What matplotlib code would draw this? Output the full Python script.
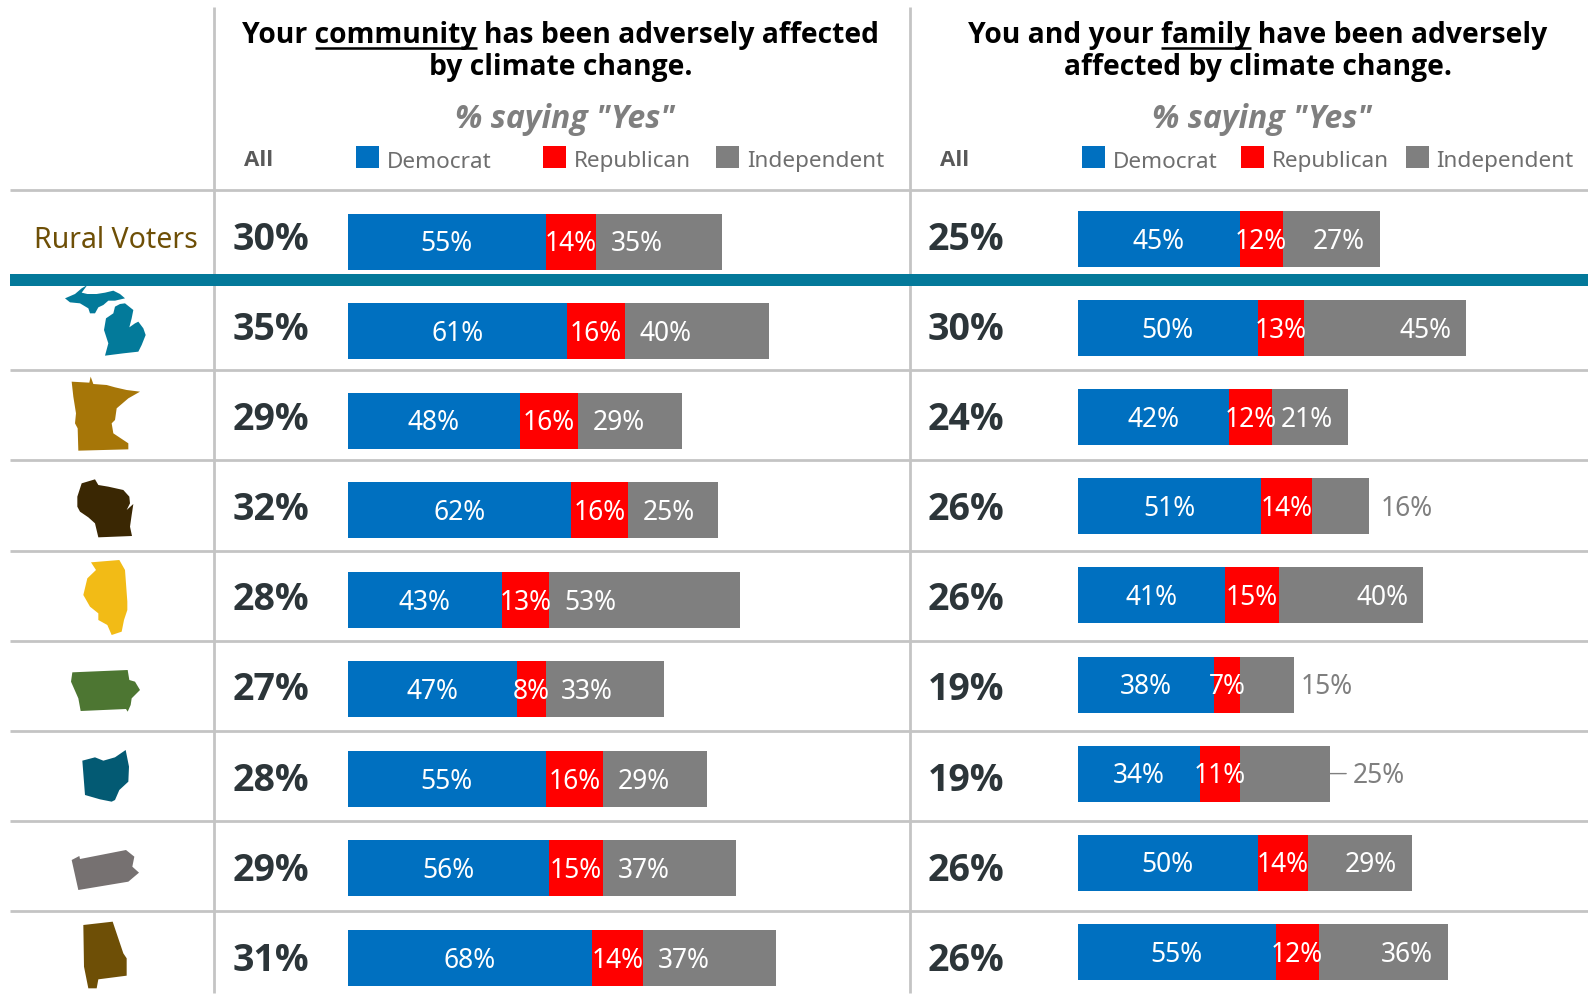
import matplotlib
matplotlib.use("Agg")
import matplotlib.pyplot as plt
from matplotlib.patches import Rectangle

rows = ["Rural Voters", "MI", "MN", "WI", "IL", "IA", "OH", "PA", "AL"]

all_left = [30, 35, 29, 32, 28, 27, 28, 29, 31]
dem_left = [55, 61, 48, 62, 43, 47, 55, 56, 68]
rep_left = [14, 16, 16, 16, 13, 8, 16, 15, 14]
ind_left = [35, 40, 29, 25, 53, 33, 29, 37, 37]

all_right = [25, 30, 24, 26, 26, 19, 19, 26, 26]
dem_right = [45, 50, 42, 51, 41, 38, 34, 50, 55]
rep_right = [12, 13, 12, 14, 15, 7, 11, 14, 12]
ind_right = [27, 45, 21, 16, 40, 15, 25, 29, 36]

party_names = ["Democrat", "Republican", "Independent"]

state_shapes = {
    "MI": (270, "#037A9A", [
        [(195, 85), (225, 72), (245, 55), (262, 45), (245, 68), (262, 72), (290, 72), (315, 68), (340, 62),
         (360, 72), (375, 85), (345, 92), (325, 92), (310, 105), (295, 112), (285, 130), (270, 130),
         (265, 115), (240, 100), (210, 97)],
        [(345, 110), (360, 102), (375, 100), (400, 120), (395, 145), (388, 172), (405, 160), (415, 155),
         (430, 175), (437, 195), (425, 225), (415, 245), (370, 250), (315, 257), (325, 220), (312, 180),
         (318, 145), (340, 130)]]),
    "MN": (270, "#A67608", [
        [(215, 335), (268, 338), (272, 320), (280, 342), (320, 345), (345, 352), (380, 360), (420, 365),
         (385, 385), (350, 415), (345, 450), (335, 460), (340, 490), (370, 510), (385, 520), (385, 538),
         (235, 542), (233, 475), (225, 460), (228, 430), (220, 380)]]),
    "WI": (270, "#3A2703", [
        [(245, 640), (285, 628), (295, 645), (325, 650), (370, 660), (388, 680), (390, 700), (380, 720),
         (400, 702), (395, 735), (390, 770), (396, 798), (295, 802), (285, 760), (265, 742), (240, 725),
         (232, 710), (232, 680)]]),
    "IL": (270, "#F2BB16", [
        [(273, 877), (358, 870), (375, 900), (382, 995), (382, 1020), (372, 1050), (365, 1085), (335, 1095),
         (322, 1065), (295, 1050), (295, 1030), (270, 1010), (250, 975), (262, 925), (288, 900)]]),
    "IA": (630, "#4D7632", [
        [(217, 127), (383, 120), (388, 150), (405, 155), (420, 180), (395, 205), (392, 225),
         (383, 245), (378, 237), (242, 243), (235, 205), (213, 155)]]),
    "OH": (630, "#035A73", [
        [(247, 392), (285, 382), (310, 392), (345, 382), (377, 360), (387, 410), (385, 455),
         (358, 480), (345, 510), (335, 515), (300, 508), (255, 495)]]),
    "PA": (630, "#767171", [
        [(215, 690), (238, 678), (240, 687), (378, 660), (403, 680), (397, 710), (417, 728),
         (385, 755), (235, 780)]]),
    "AL": (630, "#6E4F06", [
        [(250, 885), (338, 875), (370, 970), (380, 985), (380, 1037), (295, 1048), (290, 1075),
         (265, 1075), (252, 1010)]]),
}

W, H = 1588, 994
PX_PER_PCT = 3.6
BLUE, RED, GRAY = "#0070C0", "#FF0000", "#7F7F7F"
LINE = "#C4C4C4"
TEAL = "#04799A"
BOLD = "Open Sans"
LABEL_SIZE = 19
TITLE_SIZE = 20.3

plt.rcParams["font.family"] = "Noto Sans"
fig = plt.figure(figsize=(W / 100, H / 100), dpi=100)

# overlay in pixel coordinates for the table furniture
bg = fig.add_axes([0, 0, 1, 1])
bg.set_xlim(0, W)
bg.set_ylim(H, 0)
bg.axis("off")

for y in [190, 370, 460, 551, 641, 731, 821, 911]:
    bg.plot([10, W], [y, y], color=LINE, lw=2, solid_capstyle="butt")
for x in [214, 910]:
    bg.plot([x, x], [7, 993], color=LINE, lw=2, solid_capstyle="butt")
bg.add_patch(Rectangle((10, 274), W - 10, 12, color=TEAL, lw=0, zorder=3))

for name, (y_off, color, polys) in state_shapes.items():
    for poly in polys:
        bg.fill([p[0] / 3 for p in poly], [y_off + p[1] / 3 for p in poly], color=color, lw=0)

bg.text(116, 240, rows[0], color="#6E4F06", fontsize=20.5, ha="center", va="center")


def title_line(cx, y, text, under=None):
    t = bg.text(cx, y, text, fontsize=TITLE_SIZE, fontweight="bold", family=BOLD, color="black",
                ha="center", va="center")
    if under is None:
        return
    r = fig.canvas.get_renderer()
    left = t.get_window_extent(r).x0
    pre = text[:text.index(under)]
    a = bg.text(0, 0, pre + under, fontsize=TITLE_SIZE, fontweight="bold", family=BOLD)
    b = bg.text(0, 0, under, fontsize=TITLE_SIZE, fontweight="bold", family=BOLD)
    total = a.get_window_extent(r).width
    word = b.get_window_extent(r).width
    a.remove()
    b.remove()
    bg.plot([left + total - word, left + total], [y + 13, y + 13], color="black", lw=1.8,
            solid_capstyle="butt")


title_line(561, 35, "Your community has been adversely affected", "community")
title_line(561, 68, "by climate change.")
title_line(1258, 35, "You and your family have been adversely", "family")
title_line(1258, 68, "affected by climate change.")

for cx in [565, 1262]:
    bg.text(cx, 119, '% saying "Yes"', fontsize=23, fontweight="bold", style="italic", family=BOLD,
            color=GRAY, ha="center", va="center")

# legends: (All x, [(square x, text x)...])
legends = [(244, [(356, 387), (543, 574), (716, 747)]),
           (940, [(1082, 1113), (1241, 1272), (1406, 1436)])]
for all_x, items in legends:
    bg.text(all_x, 161, "All", fontsize=16, fontweight="bold", family=BOLD, color="#595959", va="center")
    for (sx, tx), name, col in zip(items, party_names, [BLUE, RED, GRAY]):
        bg.add_patch(Rectangle((sx, 146), 23, 22, color=col, lw=0))
        bg.text(tx, 162, name, fontsize=16.2, color="#6E6E6E", va="center")

for i in range(len(rows)):
    y = 240 + 90.1 * i
    bg.text(270.5, y, f"{all_left[i]}%", fontsize=27, fontweight="bold", family=BOLD, color="#2C3539",
            ha="center", va="center")
    bg.text(966, y, f"{all_right[i]}%", fontsize=27, fontweight="bold", family=BOLD, color="#2C3539",
            ha="center", va="center")


def bar_axes(x0, x1, y_first, step):
    top = y_first - step / 2
    bottom = y_first + step * (len(rows) - 0.5)
    ax = fig.add_axes([x0 / W, 1 - bottom / H, (x1 - x0) / W, (bottom - top) / H])
    ax.set_xlim(0, (x1 - x0) / PX_PER_PCT)
    ax.set_ylim(len(rows) - 0.5, -0.5)
    ax.axis("off")
    ax.patch.set_alpha(0)
    return ax, 56 / step


def bar_label(ax, x, i, v, dx=0, color="white"):
    ax.annotate(f"{v}%", (x, i), xytext=(dx * 0.72, -2), textcoords="offset points",
                color=color, fontsize=LABEL_SIZE, ha="center", va="center")


def stacked(ax, h, dem, rep, ind):
    ypos = list(range(len(rows)))
    left2 = [d + r for d, r in zip(dem, rep)]
    ax.barh(ypos, dem, height=h, color=BLUE)
    ax.barh(ypos, rep, left=dem, height=h, color=RED)
    ax.barh(ypos, ind, left=left2, height=h, color=GRAY)
    for i in ypos:
        bar_label(ax, dem[i] / 2, i, dem[i])
        bar_label(ax, dem[i] + rep[i] / 2, i, rep[i])


ax_l, h_l = bar_axes(347.5, 905, 241.5, 89.57)
stacked(ax_l, h_l, dem_left, rep_left, ind_left)
for i, v in enumerate(ind_left):
    bar_label(ax_l, dem_left[i] + rep_left[i], i, v, dx=41)

ax_r, h_r = bar_axes(1077.5, W, 239, 89.1)
stacked(ax_r, h_r, dem_right, rep_right, ind_right)
outside = {3: 38, 5: 33, 6: 49}  # labels pulled outside the short bars, px from bar end
for i, v in enumerate(ind_right):
    end = dem_right[i] + rep_right[i] + v
    if i in outside:
        bar_label(ax_r, end, i, v, dx=outside[i], color=GRAY)
    else:
        bar_label(ax_r, end, i, v, dx=-41)
ax_r.annotate("", (dem_right[6] + rep_right[6] + ind_right[6], 6), xytext=(12, 0),
              textcoords="offset points", arrowprops=dict(arrowstyle="-", color=GRAY, lw=1, shrinkA=0, shrinkB=0))

fig.savefig("out.png", dpi=100)
